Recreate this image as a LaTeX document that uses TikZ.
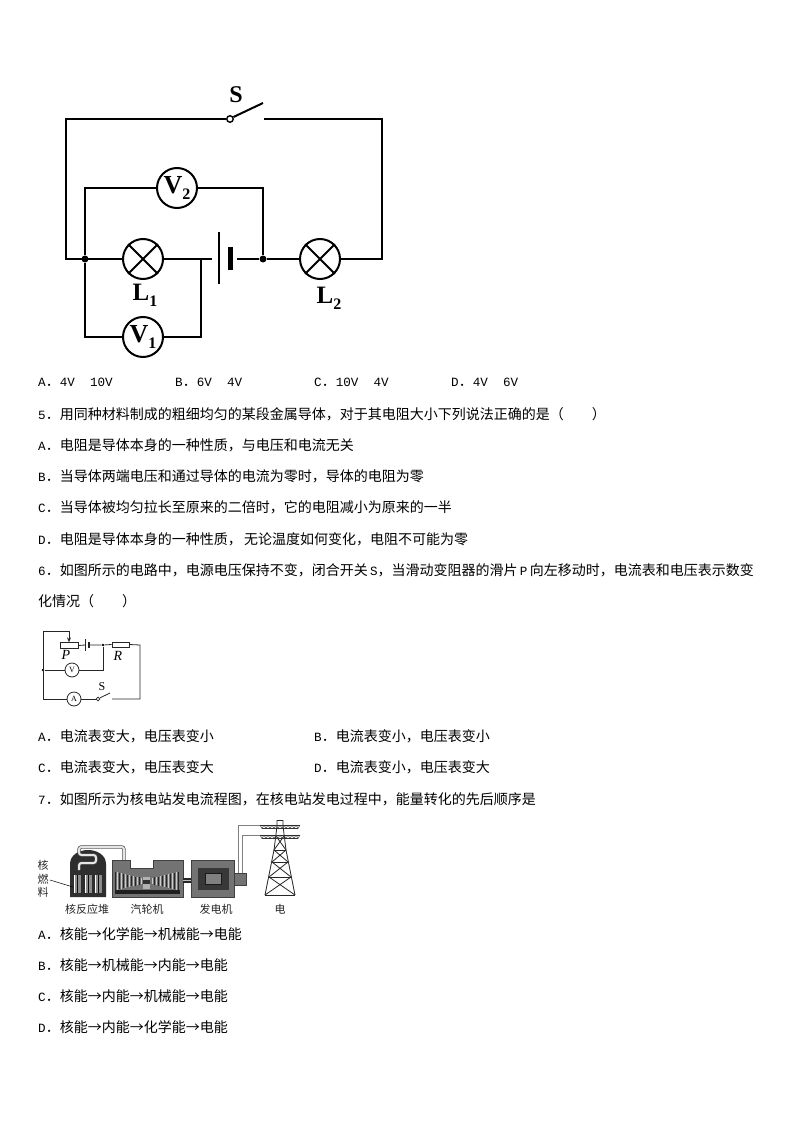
\documentclass[tikz,border=0pt]{standalone}
\usepackage{fontspec}
\setmainfont{Noto Sans CJK SC}
\newfontfamily\lafont{Liberation Mono}
\newfontfamily\serfont{Liberation Serif}
\newcommand{\la}[1]{{\lafont\fontsize{12.6}{14}\selectfont #1}}
\newcommand{\bigsym}[3]{{\serfont\bfseries\fontsize{#3}{#3}\selectfont #1\raisebox{-0.24em}{\fontsize{16}{16}\selectfont #2}}}
\usetikzlibrary{arrows.meta}
\tikzset{
  txt/.style={anchor=west,inner sep=0pt,font=\fontsize{14}{16}\selectfont,text=black},
  wire/.style={line width=2pt,line join=miter,line cap=butt,black},
  thin wire/.style={line width=0.8pt,black!85},
  meter/.style={circle,draw=black,line width=2pt,fill=white,minimum size=40pt,inner sep=0pt},
  smeter/.style={circle,draw=black!85,line width=0.8pt,fill=white,minimum size=14pt,inner sep=0pt,font=\serfont\fontsize{8}{8}\selectfont},
  dotn/.style={circle,fill=black,minimum size=7pt,inner sep=0pt},
  sdot/.style={circle,fill=black,minimum size=2.8pt,inner sep=0pt},
  contact/.style={circle,draw=black,line width=1.4pt,fill=white,minimum size=6.5pt,inner sep=0pt},
  scontact/.style={circle,draw=black!85,line width=0.7pt,fill=white,minimum size=3.8pt,inner sep=0pt},
  lbl/.style={inner sep=0pt},
  slab/.style={inner sep=0pt,font=\fontsize{11}{12}\selectfont,text=black!85},
  pipe/.style={line width=3.4pt,black!70,rounded corners=2.5pt},
  pipein/.style={line width=2pt,black!10,rounded corners=2.5pt},
  gridw/.style={line width=1pt,black!50},
  tow/.style={line width=0.8pt,black!85}
}
\begin{document}
\begin{tikzpicture}[x=1pt,y=-1pt]
\useasboundingbox[fill=white] (0,0) rectangle (794,1123);

% ---------- circuit 1 ----------
\coordinate (tl) at (66,119);
\coordinate (tr) at (382,119);
\coordinate (bl) at (66,259);
\coordinate (br) at (382,259);
\coordinate (armend) at (263,103);
\coordinate (gapend) at (264,119);
\coordinate (v2l) at (85,188);
\coordinate (v2r) at (263,188);
\coordinate (v1l) at (85,337);
\coordinate (v1r) at (201,337);
\coordinate (v1t) at (201,259);
\coordinate (batl) at (212,259);
\coordinate (batr) at (237,259);
\coordinate (longt) at (219,232);
\coordinate (longb) at (219,284);
\coordinate (shortt) at (230,247);
\coordinate (shortb) at (230,270);

\node[contact] (sw) at (230,119) {};
\node[meter] (V2) at (177,188) {\bigsym{V}{2}{26}};
\node[meter] (V1) at (143,337) {\bigsym{V}{1}{26}};
\node[meter] (L1) at (143,259) {};
\node[meter] (L2) at (320,259) {};
\node[dotn] (jl) at (85,259) {};
\node[dotn] (jr) at (263,259) {};
\node[lbl,font=\serfont\bfseries\fontsize{24}{24}\selectfont] (Slab) at (236,95) {S};
\node[lbl] (L1lab) at (145,295) {\bigsym{L}{1}{25}};
\node[lbl] (L2lab) at (329,298) {\bigsym{L}{2}{25}};

\draw[wire] (sw.west) -- (tl) -- (bl) -- (L1.west);
\draw[wire] (sw.30) -- (armend);
\draw[wire] (gapend) -- (tr) -- (br) -- (L2.east);
\draw[wire] (jr) -- (L2.west);
\draw[wire] (batr) -- (jr);
\draw[wire] (L1.east) -- (batl);
\draw[wire] (jl) -- (v2l) -- (V2.west);
\draw[wire] (V2.east) -- (v2r) -- (jr);
\draw[wire] (jl) -- (v1l) -- (V1.west);
\draw[wire] (V1.east) -- (v1r) -- (v1t);
\draw[wire] (longt) -- (longb);
\draw[line width=5pt,black] (shortt) -- (shortb);
\draw[wire] (L1.45) -- (L1.225) (L1.135) -- (L1.315);
\draw[wire] (L2.45) -- (L2.225) (L2.135) -- (L2.315);

% ---------- text block ----------
\node[txt] (a4) at (38,382) {\la{A}．\la{4V\ \ 10V}};
\node[txt] (b4) at (175,382) {\la{B}．\la{6V\ \ 4V}};
\node[txt] (c4) at (314,382) {\la{C}．\la{10V\ \ 4V}};
\node[txt] (d4) at (451,382) {\la{D}．\la{4V\ \ 6V}};
\node[txt] (q5) at (38,414) {\la{5}．用同种材料制成的粗细均匀的某段金属导体，对于其电阻大小下列说法正确的是（　　）};
\node[txt] (a5) at (38,445) {\la{A}．电阻是导体本身的一种性质，与电压和电流无关};
\node[txt] (b5) at (38,476) {\la{B}．当导体两端电压和通过导体的电流为零时，导体的电阻为零};
\node[txt] (c5) at (38,507) {\la{C}．当导体被均匀拉长至原来的二倍时，它的电阻减小为原来的一半};
\node[txt] (d5) at (38,539) {\la{D}．电阻是导体本身的一种性质，\,无论温度如何变化，电阻不可能为零};
\node[txt] (q6) at (38,570) {\la{6}．如图所示的电路中，电源电压保持不变，闭合开关\,\la{S}，当滑动变阻器的滑片\,\la{P}\,向左移动时，电流表和电压表示数变};
\node[txt] (q6b) at (38,601) {化情况（　　）};
\node[txt] (a6) at (38,736) {\la{A}．电流表变大，电压表变小};
\node[txt] (b6) at (314,736) {\la{B}．电流表变小，电压表变小};
\node[txt] (c6) at (38,767) {\la{C}．电流表变大，电压表变大};
\node[txt] (d6) at (314,767) {\la{D}．电流表变小，电压表变大};
\node[txt] (q7) at (38,799) {\la{7}．如图所示为核电站发电流程图，在核电站发电过程中，能量转化的先后顺序是};
\node[txt] (a7) at (38,934) {\la{A}．核能→化学能→机械能→电能};
\node[txt] (b7) at (38,965) {\la{B}．核能→机械能→内能→电能};
\node[txt] (c7) at (38,996) {\la{C}．核能→内能→机械能→电能};
\node[txt] (d7) at (38,1027) {\la{D}．核能→内能→化学能→电能};

% ---------- circuit 2 ----------
\coordinate (c2tl) at (43,631);
\coordinate (c2tm) at (69,631);
\coordinate (c2bl) at (43,699);
\coordinate (c2tr) at (140,645);
\coordinate (c2br) at (140,699);
\coordinate (c2gap) at (112,699);
\coordinate (c2arm) at (110,693);
\coordinate (c2vr) at (103,670);
\coordinate (c2batl) at (85,645);
\coordinate (c2batr) at (89,645);
\node[draw=black!85,line width=0.8pt,fill=white,minimum width=18pt,minimum height=5.5pt,inner sep=0pt] (rh) at (69,645.5) {};
\node[draw=black!85,line width=0.8pt,fill=white,minimum width=17pt,minimum height=5pt,inner sep=0pt] (Rr) at (120.5,644.5) {};
\node[smeter] (Vs) at (72,670) {V};
\node[smeter] (As) at (74,699) {A};
\node[sdot] (n1) at (103,645) {};
\node[sdot] (n2) at (43,670) {};
\node[scontact] (sw2) at (98,699) {};
\node[lbl,font=\serfont\itshape\fontsize{14}{14}\selectfont] (Plab) at (66,655) {P};
\node[lbl,font=\serfont\itshape\fontsize{14}{14}\selectfont] (Rlab) at (118,656) {R};
\node[lbl,font=\serfont\fontsize{12}{12}\selectfont] (S2lab) at (102,687) {S};
\draw[thin wire] (c2bl) -- (c2tl) -- (c2tm);
\draw[thin wire,-{Stealth[length=5pt,width=4pt]}] (c2tm) -- (rh.north);
\draw[thin wire] (rh.east) -- (c2batl);
\draw[thin wire] (c2batr) -- (n1) -- (Rr.west);
\draw[thin wire] (Rr.east) -- (c2tr) -- (c2br) -- (c2gap);
\draw[thin wire] (n2) -- (Vs.west);
\draw[thin wire] (Vs.east) -- (c2vr) -- (n1);
\draw[thin wire] (c2bl) -- (As.west);
\draw[thin wire] (As.east) -- (sw2.west);
\draw[thin wire] (sw2.30) -- (c2arm);
\draw[thin wire] (85,639) -- (85,651);
\draw[line width=1.4pt,black!85] (89,642) -- (89,648);

% ---------- nuclear plant ----------
% reactor
\fill[black!82] (70,897) -- (70,864) .. controls (70,855) and (79,850) .. (88,850) .. controls (97,850) and (106,855) .. (106,864) -- (106,897) -- cycle;
\foreach \x in {77,88,98}{
  \fill[black!45] (\x-3.5,875) rectangle (\x+3.5,893);
  \draw[black!95,line width=0.9pt] (\x,875) -- (\x,893);
  \draw[white,line width=0.5pt] (\x-2.5,875) -- (\x-2.5,893);
}
% pipe
\draw[pipe] (124,861) -- (124,847) -- (79,847) -- (79,855) -- (96,855) -- (96,863) -- (79,863) -- (79,870);
\draw[pipein] (124,861) -- (124,847) -- (79,847) -- (79,855) -- (96,855) -- (96,863) -- (79,863) -- (79,870);
% turbine
\fill[black!55] (112,860) -- (130,860) -- (130,868) -- (153,868) -- (153,860) -- (183,860) -- (183,897) -- (112,897) -- cycle;
\draw[black!75,line width=0.5pt] (112,860) -- (130,860) -- (130,868) -- (153,868) -- (153,860) -- (183,860) -- (183,897) -- (112,897) -- cycle;
\fill[black!88] (115,890) rectangle (180,894);
\fill[black!30] (143,877) rectangle (150,889);
\foreach \i in {0,...,13}{
  \pgfmathsetmacro{\xa}{115+\i*2}
  \pgfmathsetmacro{\xb}{178-\i*2}
  \pgfmathsetmacro{\hh}{9-\i*0.45}
  \pgfmathsetmacro{\sh}{mod(\i,2)==0?85:20}
  \draw[black!\sh,line width=1pt] (\xa,881-\hh) -- (\xa,881+\hh);
  \draw[black!\sh,line width=1pt] (\xb,881-\hh) -- (\xb,881+\hh);
}
\fill[black!80] (143,880) rectangle (150,884);
% shaft
\fill[black!85] (183,878) rectangle (191,883);
\fill[black!25] (183,880) rectangle (191,881);
% generator
\fill[black!55] (191,860) rectangle (234,897);
\draw[black!75,line width=0.5pt] (191,860) rectangle (234,897);
\fill[black!78] (198,868) rectangle (229,890);
\fill[black!50] (205,873) rectangle (221,884);
\draw[black!90,line width=0.5pt] (205,873) rectangle (221,884);
\fill[black!55] (234,873) rectangle (246,885);
\draw[black!75,line width=0.5pt] (234,873) rectangle (246,885);
% power lines
\draw[gridw] (238,873) -- (238,825) -- (262,825);
\draw[gridw] (242,873) -- (242,835) -- (262,835);
% tower
\draw[tow] (277,820) -- (277,826) -- (274,850) -- (265,895) (283,820) -- (283,826) -- (286,850) -- (295,895);
\draw[tow] (277,820) -- (283,820);
\draw[tow] (274,850) -- (286,850) (272,862) -- (288,862) (269,877) -- (291,877) (265,895) -- (295,895);
\draw[tow] (274,850) -- (288,862) (286,850) -- (272,862) (272,862) -- (291,877) (288,862) -- (269,877) (269,877) -- (295,895) (291,877) -- (265,895);
\draw[tow] (276,836) -- (286,850) (284,836) -- (274,850);
\draw[tow] (260,825) -- (300,825) (260,835) -- (300,835);
\foreach \y in {825,835}{
  \foreach \d in {0,4,...,36}{
    \draw[line width=0.5pt,black!75] (260+\d,\y) -- (262+\d,\y+3.5) -- (264+\d,\y);
  }
  \draw[line width=0.6pt,black!80] (262,\y+3.5) -- (298,\y+3.5);
}
% labels
\node[slab] (k1) at (43,865) {核};
\node[slab] (k2) at (43,879) {燃};
\node[slab] (k3) at (43,892) {料};
\coordinate (leadA) at (50,880);
\coordinate (leadB) at (73,887);
\draw[line width=0.5pt,black] (leadA) -- (leadB);
\node[slab] (p1) at (87,909) {核反应堆};
\node[slab] (p2) at (147,909) {汽轮机};
\node[slab] (p3) at (216,909) {发电机};
\node[slab] (p4) at (280,909) {电};
\end{tikzpicture}
\end{document}
